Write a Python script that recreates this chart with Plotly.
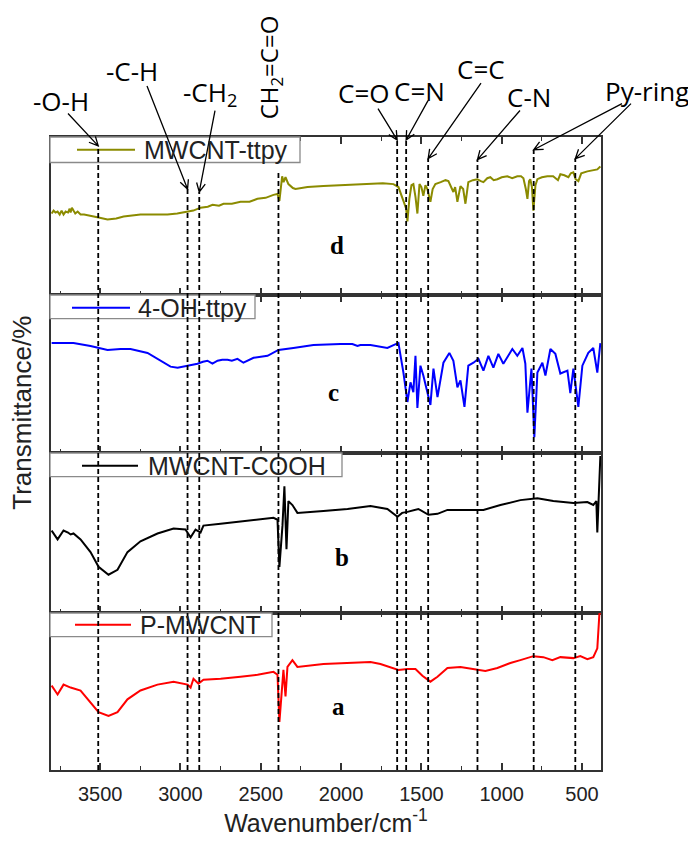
import math
import plotly.graph_objects as go
from plotly.subplots import make_subplots

# ---------------- data (wavenumber / cm^-1, transmittance in a.u. per panel) ----------------
wn_d = [3802, 3790, 3778, 3765, 3752, 3740, 3728, 3715, 3700, 3690,
        3684, 3676, 3666, 3655, 3640, 3622, 3600, 3560, 3510, 3454,
        3400, 3354, 3300, 3249, 3160, 3081, 3020, 2956, 2920, 2875,
        2830, 2800, 2760, 2732, 2680, 2626, 2570, 2521, 2470, 2421,
        2396, 2384, 2367, 2358, 2346, 2328, 2300, 2284, 2209, 2110,
        2004, 1900, 1817, 1740, 1674, 1643, 1612, 1595, 1587, 1575,
        1562, 1550, 1537, 1525, 1512, 1500, 1488, 1475, 1463, 1444,
        1430, 1413, 1380, 1350, 1332, 1301, 1290, 1276, 1257, 1240,
        1226, 1208, 1180, 1152, 1130, 1114, 1090, 1071, 1050, 1027,
        1000, 965, 935, 903, 880, 865, 850, 840, 830, 822,
        812, 803, 790, 778, 750, 716, 680, 650, 635, 610,
        585, 570, 554, 540, 523, 505, 467, 440, 405, 386]
t_d = [83, 86, 84, 85, 82, 86, 82, 85, 84, 88,
       84, 89, 86, 83, 85, 82, 82, 81, 79, 77,
       78, 80, 81, 82, 82, 82, 83, 85, 86, 89,
       90, 92, 91, 93, 93, 95, 95, 98, 99, 102,
       103, 96, 121, 115, 120, 113, 109, 108, 110, 111,
       112, 113, 114, 114, 113, 110, 96, 88, 75, 98,
       112, 113, 100, 83, 113, 110, 101, 112, 108, 95,
       108, 113, 115, 117, 116, 105, 110, 95, 111, 108,
       93, 115, 117, 118, 116, 115, 119, 120, 117, 118,
       120, 121, 119, 121, 121, 119, 108, 98, 116, 118,
       110, 86, 112, 118, 120, 121, 121, 117, 123, 122,
       120, 124, 125, 118, 116, 124, 126, 127, 128, 131]

wn_c = [3802, 3666, 3560, 3454, 3373, 3311, 3205, 3124, 3062, 3018,
        2990, 2956, 2930, 2894, 2860, 2832, 2801, 2769, 2740, 2707,
        2680, 2645, 2608, 2545, 2458, 2390, 2297, 2172, 2004, 1930,
        1898, 1880, 1817, 1712, 1660, 1643, 1612, 1587, 1568, 1550,
        1537, 1525, 1506, 1488, 1463, 1444, 1425, 1400, 1363, 1326,
        1301, 1276, 1257, 1232, 1208, 1176, 1145, 1114, 1083, 1052,
        1021, 990, 934, 903, 871, 853, 840, 815, 797, 778,
        747, 728, 697, 666, 635, 591, 573, 554, 523, 498,
        461, 430, 405, 386]
t_c = [112, 112, 109, 105, 106, 106, 102, 94, 88, 87,
       88, 89, 90, 91, 93, 94, 91, 94, 95, 95,
       94, 96, 92, 97, 99, 105, 107, 110, 111, 111,
       109, 110, 110, 107, 111, 112, 82, 52, 72, 62,
       99, 46, 89, 79, 62, 49, 86, 57, 92, 102,
       94, 67, 74, 47, 89, 92, 96, 84, 99, 87,
       101, 91, 106, 99, 107, 91, 41, 86, 16, 82,
       92, 79, 106, 101, 81, 84, 61, 86, 47, 89,
       102, 107, 82, 112]

wn_b = [3802, 3765, 3728, 3700, 3684, 3666, 3622, 3560, 3510, 3448,
        3392, 3330, 3249, 3143, 3043, 2969, 2937, 2906, 2875, 2857,
        2750, 2626, 2520, 2421, 2396, 2384, 2365, 2353, 2340, 2328,
        2303, 2272, 2110, 1960, 1817, 1712, 1649, 1620, 1587, 1519,
        1456, 1400, 1338, 1239, 1114, 1008, 884, 778, 679, 554,
        467, 430, 411, 405, 392, 386]
t_b = [84, 75, 84, 82, 80, 81, 75, 62, 47, 39,
       44, 62, 73, 81, 86, 85, 77, 85, 82, 89,
       91, 93, 95, 97, 95, 47, 89, 129, 65, 114,
       110, 102, 104, 106, 109, 106, 98, 102, 103, 106,
       100, 101, 105, 105, 105, 110, 115, 117, 114, 112,
       113, 110, 114, 82, 145, 160]

wn_a = [3802, 3765, 3728, 3684, 3622, 3560, 3510, 3448, 3392, 3330,
        3249, 3143, 3043, 2956, 2937, 2919, 2888, 2857, 2750, 2626,
        2520, 2421, 2396, 2384, 2359, 2346, 2334, 2303, 2272, 2110,
        1898, 1817, 1755, 1674, 1643, 1587, 1537, 1494, 1444, 1400,
        1338, 1257, 1176, 1102, 1027, 946, 884, 803, 741, 685,
        635, 554, 511, 467, 430, 405, 392, 386]
t_a = [86, 77, 87, 84, 81, 69, 59, 55, 59, 72,
       81, 87, 90, 87, 84, 93, 88, 92, 93, 95,
       97, 100, 97, 49, 102, 75, 105, 112, 105, 108,
       110, 110, 108, 104, 102, 103, 103, 96, 90, 95,
       104, 105, 103, 101, 104, 109, 112, 116, 115, 112,
       115, 114, 116, 113, 115, 124, 159, 160]

series_names = ["MWCNT-ttpy", "4-OH-ttpy", "MWCNT-COOH", "P-MWCNT"]
panel_letters = ["d", "c", "b", "a"]
panel_ymax = [161, 161, 163, 160]

band_wn = [3512, 2956, 2883, 2390, 1651, 1595, 1458, 1151, 801, 542]

x_ticks = [500, 1000, 1500, 2000, 2500, 3000, 3500]
x_minor = [750, 1250, 1750, 2250, 2750, 3250, 3750]
x_range = [3806, 382]

# ---------------- styles / layout (page pixel coordinates) ----------------
colors = ["#8b8b00", "#0000ff", "#000000", "#ff0000"]
W, H = 696, 841
OFF = 8                      # default page margin around the figure div
L, T, PW, PH = 51, 137, 550, 645
AXC = "#333333"
SANS = "Liberation Sans, Arial"


def px(x):
    return (x - L) / PW


def py(y):
    return (T + PH - y) / PH


def xpix(wn):
    return L + (x_range[0] - wn) / (x_range[0] - x_range[1]) * PW


fig = make_subplots(rows=4, cols=1, shared_xaxes=True, vertical_spacing=0,
                    row_heights=panel_ymax)

all_x = [wn_d, wn_c, wn_b, wn_a]
all_y = [t_d, t_c, t_b, t_a]
for i in range(4):
    fig.add_trace(go.Scatter(x=all_x[i], y=all_y[i], mode="lines", name=series_names[i],
                             line=dict(color=colors[i], width=2), showlegend=False),
                  row=i + 1, col=1)
    fig.update_yaxes(range=[0, panel_ymax[i]], row=i + 1, col=1)

fig.update_xaxes(range=x_range, showline=True, linewidth=2, linecolor=AXC, mirror="ticks",
                 ticks="inside", ticklen=7, tickwidth=1.5, tickcolor=AXC,
                 tickvals=x_ticks, showgrid=False, zeroline=False,
                 minor=dict(ticks="inside", tickvals=x_minor,
                            ticklen=4, tickwidth=1.3, tickcolor=AXC),
                 ticklabelstandoff=5,
                 tickfont=dict(family=SANS, size=20, color="#222222"))
fig.update_yaxes(showline=True, linewidth=2, linecolor=AXC, mirror=True, ticks="",
                 showticklabels=False, showgrid=False, zeroline=False)
fig.update_xaxes(title=dict(text="Wavenumber/cm<sup>-1</sup>", standoff=6,
                            font=dict(family=SANS, size=25, color="#222222")),
                 row=4, col=1)

shapes = []
annotations = []

# legend boxes (drawn manually to match the original layout)
legend_boxes = [  # x0, y0, x1, y1, line x0, line x1, line y, text x
    (50, 137, 300, 163, 77, 135, 150, 142),
    (50, 298, 255, 322, 72, 130, 311, 136),
    (50, 459, 342, 483, 82, 138, 472, 146),
    (50, 622, 272, 646, 75, 131, 634, 138),
]
for i, (x0, y0, x1, y1, lx0, lx1, ly, tx) in enumerate(legend_boxes):
    shapes.append(dict(type="rect", xref="paper", yref="paper", x0=px(x0), x1=px(x1),
                       y0=py(y1), y1=py(y0), fillcolor="white",
                       line=dict(color="#8a8a8a", width=1.3), layer="above"))
    shapes.append(dict(type="line", xref="paper", yref="paper", x0=px(lx0), x1=px(lx1),
                       y0=py(ly), y1=py(ly), line=dict(color=colors[i], width=2), layer="above"))
    annotations.append(dict(text=series_names[i], xref="paper", yref="paper", x=px(tx), y=py(ly),
                            xanchor="left", yanchor="middle", showarrow=False,
                            font=dict(family=SANS, size=25, color="#222222")))

# dashed band lines
band_tops = [146, 190, 193, 172, 139, 139, 159, 160, 150, 159]
for wn, top in zip(band_wn, band_tops):
    shapes.append(dict(type="line", xref="x", yref="paper", x0=wn, x1=wn, y0=0, y1=py(top),
                       line=dict(color="black", width=1.8, dash="5px,3px"), layer="above"))

# panel letters
letter_pos = [(2023, 248), (2048, 397), (1992, 565), (2017, 717)]
for letter, (lx, ly) in zip(panel_letters, letter_pos):
    annotations.append(dict(text="<b>%s</b>" % letter, xref="x", yref="paper", x=lx, y=py(ly),
                            showarrow=False, xanchor="center", yanchor="middle",
                            font=dict(family="Liberation Serif, Times New Roman", size=25, color="black")))

# group labels above the plot
lab_font = dict(family="Open Sans, Noto Sans", size=26, color="black")
labels = [("-O-H", 61, 100), ("-C-H", 132, 70), ("-CH<sub>2</sub>", 210, 92),
          ("C=O", 363, 92), ("C=N", 419, 90), ("C=C", 481, 68), ("C-N", 529, 96),
          ("Py-ring", 647, 90)]
for txt, lx, ly in labels:
    annotations.append(dict(text=txt, xref="paper", yref="paper", x=px(lx), y=py(ly),
                            showarrow=False, xanchor="center", yanchor="middle", font=lab_font))
annotations.append(dict(text="CH<sub>2</sub>=C=O", xref="paper", yref="paper", x=px(270), y=py(66),
                        showarrow=False, textangle=-90, xanchor="center", yanchor="middle",
                        font=dict(family="Open Sans, Noto Sans", size=24, color="black")))

# arrows from labels to band lines: (band wavenumber, tail x, tail y, tip y)
arrows = [(3512, 68, 113, 146), (2956, 147, 85, 190), (2883, 215, 110, 193),
          (1651, 378, 108, 140), (1595, 428, 100, 140), (1458, 481, 82, 159),
          (1151, 520, 110, 160), (801, 622, 103, 150), (542, 631, 103, 159)]
HEAD, ANG = 10, math.radians(26)
for wn, tx, ty, tip in arrows:
    hx, hy = xpix(wn), tip
    dx, dy = hx - tx, hy - ty
    n = math.hypot(dx, dy)
    bx, by = -dx / n, -dy / n
    pts = []
    for s in (1, -1):
        c, sn = math.cos(ANG), math.sin(s * ANG)
        pts.append((hx + HEAD * (c * bx - sn * by), hy + HEAD * (sn * bx + c * by)))
    path = "M{},{} L{},{} M{},{} L{},{} L{},{}".format(
        px(tx), py(ty), px(hx), py(hy), px(pts[0][0]), py(pts[0][1]),
        px(hx), py(hy), px(pts[1][0]), py(pts[1][1]))
    shapes.append(dict(type="path", xref="paper", yref="paper", path=path,
                       line=dict(color="black", width=1.3), layer="above"))

# y-axis title
annotations.append(dict(text="Transmittance/%", xref="paper", yref="paper", x=px(22), y=py(418),
                        showarrow=False, textangle=-90, xanchor="center", yanchor="middle",
                        font=dict(family=SANS, size=26, color="#222222")))

fig.update_layout(width=W - OFF, height=H - OFF,
                  margin=dict(l=L - OFF, r=W - L - PW, t=T - OFF, b=H - T - PH),
                  plot_bgcolor="white", paper_bgcolor="white", showlegend=False,
                  shapes=shapes, annotations=annotations)

fig.write_html("out.html")
